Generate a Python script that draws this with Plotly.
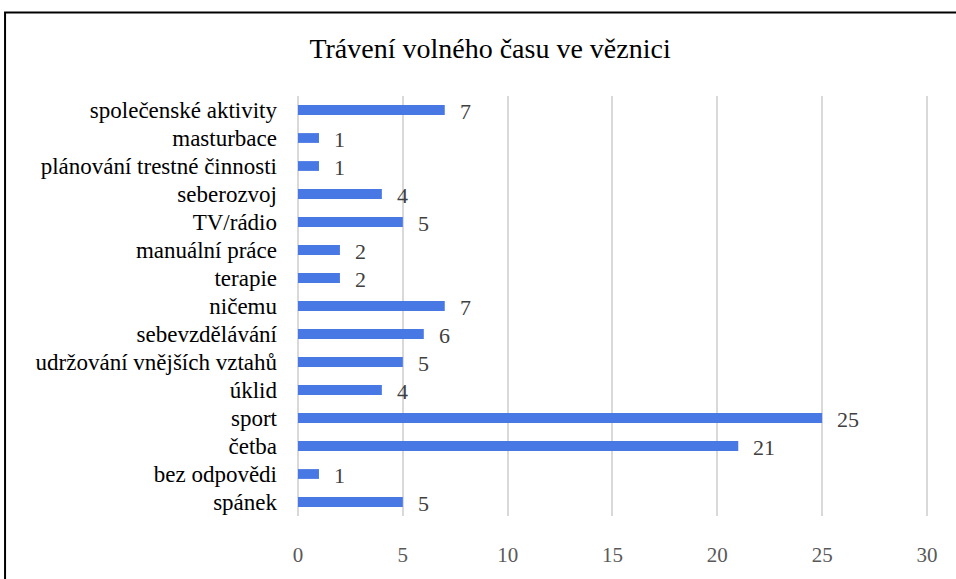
import plotly.graph_objects as go

categories = ["spánek", "bez odpovědi", "četba", "sport", "úklid",
              "udržování vnějších vztahů", "sebevzdělávání", "ničemu", "terapie",
              "manuální práce", "TV/rádio", "seberozvoj",
              "plánování trestné činnosti", "masturbace", "společenské aktivity"]
values = [5, 1, 21, 25, 4, 5, 6, 7, 2, 2, 5, 4, 1, 1, 7]
x_ticks = [0, 5, 10, 15, 20, 25, 30]

FONT = "Liberation Serif"

fig = go.Figure()
fig.add_trace(go.Bar(
    x=values, y=categories, orientation="h",
    marker=dict(color="#4878E4", line=dict(width=0)),
    width=0.35, hoverinfo="x+y",
))

for c, v in zip(categories, values):
    fig.add_annotation(x=v, y=c, text=str(v), showarrow=False,
                       xanchor="left", xshift=13, yshift=-1,
                       font=dict(family=FONT, size=22, color="#404040"))

fig.update_layout(
    width=956, height=579,
    margin=dict(l=298, r=28, t=96, b=51),
    paper_bgcolor="white", plot_bgcolor="white",
    showlegend=False,
    title=dict(text="Trávení volného času ve věznici", x=0.5126, xref="container",
               xanchor="center", y=0.917, yref="container", yanchor="middle",
               font=dict(family=FONT, size=28, color="#000000")),
    font=dict(family=FONT),
    xaxis=dict(range=[0, 30.05], tickvals=x_ticks, showgrid=True,
               gridcolor="#d9d9d9", gridwidth=1.5, zeroline=True,
               zerolinecolor="#d9d9d9", zerolinewidth=1.5,
               tickfont=dict(family=FONT, size=21, color="#595959"),
               ticklabelstandoff=24, showline=False, fixedrange=True),
    yaxis=dict(range=[-0.5, 14.5], showgrid=False,
               tickfont=dict(family=FONT, size=23, color="#000000"),
               ticklabelstandoff=20, showline=False, categoryorder="array",
               categoryarray=categories, fixedrange=True),
    shapes=[dict(type="rect", xref="paper", yref="paper",
                 x0=-0.465, x1=1.2, y0=-0.3, y1=1.199,
                 line=dict(color="black", width=2), fillcolor="rgba(0,0,0,0)",
                 layer="above")],
)

fig.write_html("out.html", config={"displayModeBar": False},
               post_script="document.body.style.margin='0px';")
